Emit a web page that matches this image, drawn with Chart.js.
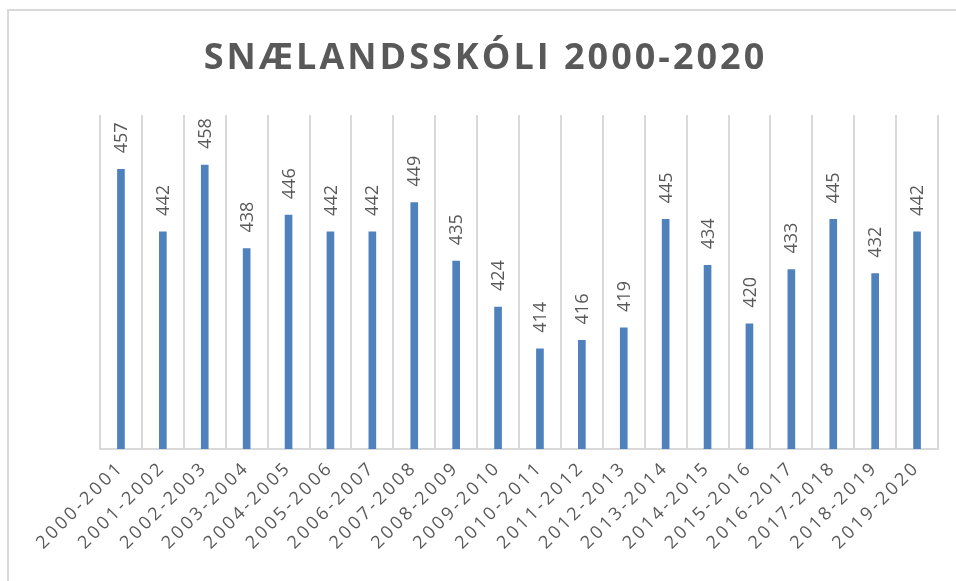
<!DOCTYPE html>
<html><head><meta charset="utf-8">
<script src="https://cdn.jsdelivr.net/npm/chart.js@4/dist/chart.umd.min.js"></script>
<style>
html,body{margin:0;padding:0;background:#fff;overflow:hidden;width:956px;height:581px}
#frame{position:absolute;left:7px;top:9px;width:1000px;height:700px;border:2px solid #d9d9d9}
#c{position:absolute;left:0;top:0}
</style></head><body>
<div id="frame"></div>
<canvas id="c" width="956" height="581"></canvas>
<script>
const titleText = 'SNÆLANDSSKÓLI 2000-2020';
const categories = ['2000-2001','2001-2002','2002-2003','2003-2004','2004-2005','2005-2006','2006-2007','2007-2008','2008-2009','2009-2010','2010-2011','2011-2012','2012-2013','2013-2014','2014-2015','2015-2016','2016-2017','2017-2018','2018-2019','2019-2020'];
const students = [457,442,458,438,446,442,442,449,435,424,414,416,419,445,434,420,433,445,432,442];
const yMin = 390;
const yMax = 470;

const canvas = document.getElementById('c');
const ctx = canvas.getContext('2d');

const spacing = {
  id: 'spacing',
  beforeUpdate(chart) { chart.ctx.letterSpacing = '3px'; },
  beforeLayout(chart) { chart.ctx.letterSpacing = '3px'; },
  beforeDraw(chart) { chart.ctx.letterSpacing = '3px'; }
};

const valueLabels = {
  id: 'valueLabels',
  afterDatasetsDraw(chart) {
    const c = chart.ctx;
    const meta = chart.getDatasetMeta(0);
    c.save();
    c.letterSpacing = '0px';
    c.font = '18px "Open Sans"';
    c.fillStyle = '#595959';
    c.textAlign = 'left';
    c.textBaseline = 'middle';
    meta.data.forEach((el, i) => {
      c.save();
      c.translate(el.x + 1, el.y - 16);
      c.rotate(-Math.PI / 2);
      c.fillText(String(students[i]), 0, 0);
      c.restore();
    });
    c.restore();
  }
};

new Chart(ctx, {
  type: 'bar',
  data: {
    labels: categories,
    datasets: [{
      data: students,
      backgroundColor: '#4F81BD',
      barThickness: 7
    }]
  },
  options: {
    responsive: false,
    animation: false,
    layout: { padding: { left: 33, right: 18, top: 10, bottom: 0 } },
    plugins: {
      legend: { display: false },
      tooltip: { enabled: false },
      title: {
        display: true,
        text: titleText,
        color: '#595959',
        font: { family: '"Open Sans"', size: 36, weight: 'bold', lineHeight: 1.2 },
        padding: { top: 27, bottom: 34.8 }
      }
    },
    scales: {
      x: {
        grid: { color: '#d9d9d9', lineWidth: 2, drawTicks: false, offset: true },
        border: { color: '#d9d9d9', width: 2 },
        ticks: {
          autoSkip: false, maxRotation: 45, minRotation: 45,
          color: '#595959', padding: 8,
          font: { family: '"Open Sans"', size: 18 }
        },
        afterFit(s) { s.height = 132; }
      },
      y: {
        min: yMin, max: yMax,
        grid: { display: false },
        border: { display: false },
        ticks: { display: false },
        afterFit(s) { s.width = 67; }
      }
    }
  },
  plugins: [spacing, valueLabels]
});
</script>
</body></html>
